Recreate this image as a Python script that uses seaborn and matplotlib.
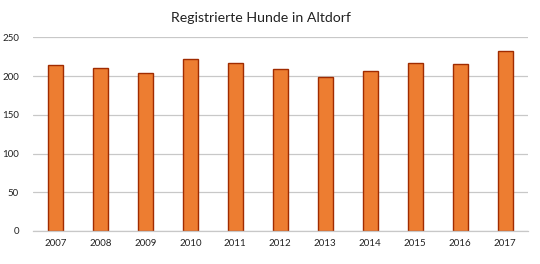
import matplotlib
matplotlib.use("Agg")
import matplotlib.pyplot as plt
import seaborn as sns
import pandas as pd

years = ["2007", "2008", "2009", "2010", "2011", "2012", "2013", "2014", "2015", "2016", "2017"]
dogs = [215, 211, 204, 222, 217, 209, 199, 207, 217, 216, 232]
title = "Registrierte Hunde in Altdorf"

sns.set_theme(style="white")
plt.rcParams['font.family'] = ['Lato', 'DejaVu Sans']

df = pd.DataFrame({"Jahr": years, "Hunde": dogs})

fig = plt.figure(figsize=(5.4, 2.64), dpi=100)
ax = fig.add_axes([0.061, 0.125, 0.916, 0.733])
sns.barplot(data=df, x="Jahr", y="Hunde", ax=ax, color="#ED7D31",
            edgecolor="#A02B00", linewidth=1.0, width=0.33, saturation=1)

ax.set_ylim(0, 250)
ax.set_yticks([0, 50, 100, 150, 200, 250])
ax.set_xlim(-0.5, len(years) - 0.5)
ax.grid(axis="y", color="#C8C8C8", linewidth=0.9)
ax.set_axisbelow(True)
for s in ["top", "right", "left"]:
    ax.spines[s].set_visible(False)
ax.spines["bottom"].set_color("#C8C8C8")
ax.spines["bottom"].set_linewidth(0.9)
ax.tick_params(axis="both", length=0, labelsize=7, colors="#222222", pad=6)
ax.tick_params(axis="y", pad=10)
ax.set_xlabel("")
ax.set_ylabel("")
fig.text(0.484, 0.93, title, ha="center", va="center", fontsize=10.2, color="#222222")

fig.savefig("out.png", dpi=100)
